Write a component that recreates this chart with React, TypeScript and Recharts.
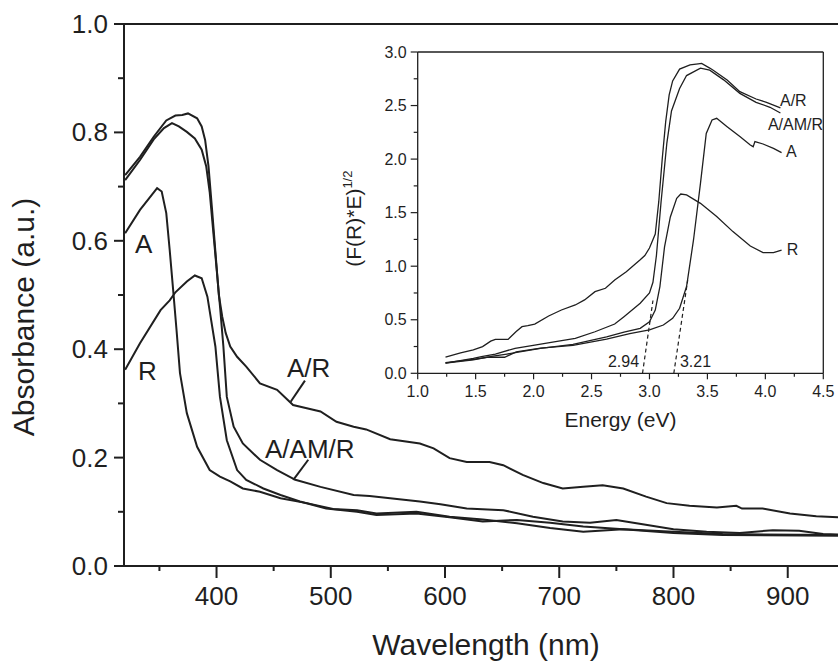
import React from 'react';
import { LineChart, Line, XAxis, YAxis, ReferenceLine, ReferenceDot } from 'recharts';

const FONT = '"Liberation Sans", Arial, Helvetica, sans-serif';
const INK = '#1f1f1f';

// ---------- Main chart: absorbance vs wavelength ----------
const arWl = [320, 333, 345, 356, 364, 370, 375, 383, 387, 390, 393, 396, 399, 402, 405, 408, 412, 418, 426, 438, 453, 467, 479, 491, 505, 520, 531, 552, 578, 590, 604, 619, 639, 651, 668, 686, 703, 721, 738, 756, 776, 794, 814, 838, 855, 860, 878, 902, 925, 944];
const arAbs = [0.721, 0.755, 0.792, 0.822, 0.831, 0.832, 0.835, 0.826, 0.811, 0.786, 0.737, 0.66, 0.58, 0.5, 0.46, 0.43, 0.405, 0.386, 0.368, 0.337, 0.325, 0.297, 0.291, 0.285, 0.266, 0.257, 0.252, 0.234, 0.226, 0.217, 0.199, 0.192, 0.192, 0.186, 0.168, 0.153, 0.143, 0.146, 0.149, 0.143, 0.128, 0.116, 0.111, 0.108, 0.111, 0.106, 0.106, 0.097, 0.092, 0.09];

const aamrWl = [320, 333, 345, 354, 361, 367, 374, 381, 387, 391, 394, 397, 400, 403, 406, 409, 415, 423, 438, 453, 469, 491, 520, 534, 552, 578, 596, 619, 651, 677, 703, 727, 750, 773, 800, 829, 858, 887, 910, 931, 944];
const aamrAbs = [0.712, 0.749, 0.787, 0.808, 0.817, 0.811, 0.801, 0.789, 0.768, 0.737, 0.69, 0.62, 0.55, 0.48, 0.405, 0.312, 0.257, 0.226, 0.196, 0.177, 0.159, 0.146, 0.131, 0.129, 0.125, 0.119, 0.114, 0.106, 0.103, 0.091, 0.082, 0.08, 0.085, 0.077, 0.068, 0.063, 0.061, 0.066, 0.065, 0.059, 0.058];

const aWl = [320, 333, 348, 352, 356, 359, 362, 365, 368, 374, 383, 394, 403, 412, 423, 438, 456, 479, 502, 523, 540, 575, 604, 633, 663, 692, 721, 756, 800, 843, 944];
const aAbs = [0.614, 0.657, 0.697, 0.691, 0.651, 0.583, 0.51, 0.435, 0.356, 0.282, 0.22, 0.177, 0.165, 0.156, 0.143, 0.137, 0.125, 0.116, 0.105, 0.103, 0.097, 0.1, 0.091, 0.086, 0.079, 0.07, 0.063, 0.068, 0.063, 0.059, 0.057];

const rWl = [320, 333, 351, 359, 364, 374, 381, 387, 392, 399, 403, 409, 418, 426, 441, 456, 473, 496, 523, 540, 575, 604, 633, 663, 692, 721, 756, 800, 843, 944];
const rAbs = [0.362, 0.411, 0.472, 0.49, 0.505, 0.525, 0.536, 0.531, 0.497, 0.405, 0.312, 0.232, 0.177, 0.159, 0.143, 0.131, 0.119, 0.106, 0.1, 0.094, 0.097, 0.09, 0.082, 0.085, 0.08, 0.073, 0.068, 0.061, 0.057, 0.056];

const mainXTicks = [350, 400, 450, 500, 550, 600, 650, 700, 750, 800, 850, 900];
const mainYTicks = [0, 0.1, 0.2, 0.3, 0.4, 0.5, 0.6, 0.7, 0.8, 0.9, 1.0];

// ---------- Inset: Tauc plot ----------
const arE = [1.24, 1.37, 1.48, 1.56, 1.63, 1.67, 1.78, 1.85, 1.9, 1.95, 2.01, 2.13, 2.24, 2.36, 2.44, 2.53, 2.62, 2.7, 2.8, 2.92, 2.96, 3.0, 3.05, 3.08, 3.11, 3.14, 3.17, 3.2, 3.26, 3.35, 3.42, 3.45, 3.52, 3.55, 3.67, 3.78, 3.92, 4.01, 4.13];
const arF = [0.152, 0.19, 0.218, 0.249, 0.3, 0.317, 0.317, 0.39, 0.435, 0.445, 0.46, 0.535, 0.591, 0.638, 0.685, 0.762, 0.794, 0.871, 0.949, 1.06, 1.1, 1.17, 1.3, 1.6, 2.0, 2.35, 2.6, 2.73, 2.84, 2.88, 2.89, 2.894, 2.85, 2.83, 2.739, 2.63, 2.561, 2.53, 2.478];

const aamrE = [1.24, 1.48, 1.55, 1.67, 1.84, 2.01, 2.19, 2.36, 2.53, 2.7, 2.78, 2.92, 3.0, 3.03, 3.06, 3.1, 3.15, 3.19, 3.26, 3.32, 3.44, 3.52, 3.64, 3.78, 3.92, 4.04, 4.13];
const aamrF = [0.095, 0.14, 0.155, 0.18, 0.233, 0.264, 0.295, 0.327, 0.388, 0.46, 0.529, 0.654, 0.75, 0.85, 1.1, 1.6, 2.15, 2.45, 2.66, 2.78, 2.85, 2.83, 2.74, 2.614, 2.53, 2.484, 2.43];

const aE = [1.24, 1.48, 1.6, 1.75, 1.85, 2.06, 2.34, 2.63, 2.83, 3.0, 3.12, 3.2, 3.26, 3.32, 3.38, 3.44, 3.49, 3.54, 3.58, 3.67, 3.78, 3.87, 3.895, 3.91, 3.98, 4.07, 4.14];
const aF = [0.1, 0.13, 0.15, 0.15, 0.2, 0.235, 0.26, 0.32, 0.37, 0.405, 0.451, 0.514, 0.607, 0.81, 1.245, 1.774, 2.24, 2.365, 2.381, 2.303, 2.21, 2.132, 2.116, 2.163, 2.141, 2.1, 2.06];

const rE = [1.24, 1.48, 1.65, 1.77, 2.06, 2.34, 2.63, 2.78, 2.92, 3.0, 3.05, 3.09, 3.13, 3.18, 3.235, 3.27, 3.32, 3.44, 3.58, 3.72, 3.87, 3.98, 4.07, 4.14];
const rF = [0.095, 0.125, 0.16, 0.18, 0.233, 0.27, 0.34, 0.385, 0.42, 0.48, 0.59, 0.81, 1.18, 1.46, 1.634, 1.674, 1.665, 1.587, 1.463, 1.323, 1.189, 1.127, 1.127, 1.15];

const insetXTicks = [1, 1.25, 1.5, 1.75, 2, 2.25, 2.5, 2.75, 3, 3.25, 3.5, 3.75, 4, 4.25, 4.5];
const insetYTicks = [0, 0.25, 0.5, 0.75, 1, 1.25, 1.5, 1.75, 2, 2.25, 2.5, 2.75, 3];

const gapEdges = [
  { label: '2.94', from: [2.94, 0], to: [3.03, 0.68] },
  { label: '3.21', from: [3.21, 0], to: [3.33, 0.87] },
];

const pts = (xs: number[], ys: number[]) => xs.map((x, i) => ({ x, y: ys[i] }));

// ---------- tick renderers ----------
const MainXTick = (p: any) => {
  const v = p.payload.value;
  const major = v % 100 === 0;
  return (
    <g>
      <line x1={p.x} x2={p.x} y1={p.y} y2={p.y + (major ? 12 : 5)} stroke={INK} strokeWidth={2} />
      {major && (
        <text x={p.x} y={p.y + 39} textAnchor="middle" fontSize={26} fontFamily={FONT} fill={INK}>
          {v}
        </text>
      )}
    </g>
  );
};

const MainYTick = (p: any) => {
  const v = p.payload.value;
  const major = Math.round(v * 10) % 2 === 0;
  return (
    <g>
      <line x1={p.x - (major ? 10 : 6)} x2={p.x} y1={p.y} y2={p.y} stroke={INK} strokeWidth={2} />
      {major && (
        <text x={p.x - 16} y={p.y + 9} textAnchor="end" fontSize={26} fontFamily={FONT} fill={INK}>
          {v.toFixed(1)}
        </text>
      )}
    </g>
  );
};

const isHalf = (v: number) => Math.abs(v * 2 - Math.round(v * 2)) < 1e-6;

const InsetXTick = (p: any) => {
  const v = p.payload.value;
  const major = isHalf(v);
  return (
    <g>
      <line x1={p.x} x2={p.x} y1={p.y} y2={p.y + (major ? 6 : 3.5)} stroke={INK} strokeWidth={1.2} />
      {major && (
        <text x={p.x} y={p.y + 23.5} textAnchor="middle" fontSize={16} fontFamily={FONT} fill={INK}>
          {v.toFixed(1)}
        </text>
      )}
    </g>
  );
};

const InsetYTick = (p: any) => {
  const v = p.payload.value;
  const major = isHalf(v);
  return (
    <g>
      <line x1={p.x - (major ? 7 : 4)} x2={p.x} y1={p.y} y2={p.y} stroke={INK} strokeWidth={1.2} />
      {major && (
        <text x={p.x - 11} y={p.y + 5.5} textAnchor="end" fontSize={16} fontFamily={FONT} fill={INK}>
          {v.toFixed(1)}
        </text>
      )}
    </g>
  );
};

const textShape = (text: string, size: number) => (p: any) => (
  <text x={p.cx} y={p.cy} fontSize={size} fontFamily={FONT} fill={INK}>
    {text}
  </text>
);

const MainXTitle = (lp: any) => {
  const vb = lp.viewBox || { x: 124, y: 566, width: 714, height: 96 };
  return (
    <text x={vb.x + vb.width / 2 + 5} y={vb.y + 89} textAnchor="middle" fontSize={30} fontFamily={FONT} fill={INK}>
      Wavelength (nm)
    </text>
  );
};

const MainYTitle = (lp: any) => {
  const vb = lp.viewBox || { x: 0, y: 24, width: 124, height: 542 };
  const x = vb.x + 34;
  const y = vb.y + vb.height / 2 + 22;
  return (
    <text x={x} y={y} transform={`rotate(-90 ${x} ${y})`} textAnchor="middle" fontSize={30} fontFamily={FONT} fill={INK}>
      Absorbance (a.u.)
    </text>
  );
};

const InsetXTitle = (lp: any) => {
  const vb = lp.viewBox || { x: 87.7, y: 333.3, width: 405.6, height: 66.7 };
  return (
    <text x={vb.x + vb.width / 2} y={vb.y + 53.4} textAnchor="middle" fontSize={21} fontFamily={FONT} fill={INK}>
      Energy (eV)
    </text>
  );
};

const InsetYTitle = (lp: any) => {
  const vb = lp.viewBox || { x: 0, y: 12, width: 87.7, height: 321.3 };
  const x = vb.x + 31;
  const y = vb.y + vb.height / 2 + 6;
  return (
    <text x={x} y={y} transform={`rotate(-90 ${x} ${y})`} textAnchor="middle" fontSize={21} fontFamily={FONT} fill={INK}>
      (F(R)*E)
      <tspan fontSize={13} dy={-9}>1/2</tspan>
    </text>
  );
};

export default function App() {
  const lineProps = { type: 'linear' as const, dataKey: 'y', dot: false, isAnimationActive: false, stroke: INK };
  return (
    <div style={{ position: 'absolute', left: 0, top: 0, width: 838, height: 662, background: '#fff', overflow: 'hidden' }}>
      <LineChart width={838} height={662} margin={{ top: 24, right: 0, bottom: 0, left: 0 }}>
        <XAxis
          type="number"
          dataKey="x"
          domain={[319, 944]}
          allowDataOverflow
          ticks={mainXTicks}
          interval={0}
          height={96}
          axisLine={{ stroke: INK, strokeWidth: 2 }}
          tickLine={false}
          tickSize={0}
          tickMargin={0}
          tick={(p: any) => <MainXTick {...p} />}
          label={{ content: MainXTitle }}
        />
        <YAxis
          type="number"
          domain={[0, 1]}
          allowDataOverflow
          ticks={mainYTicks}
          interval={0}
          width={124}
          axisLine={{ stroke: INK, strokeWidth: 2 }}
          tickLine={false}
          tickSize={0}
          tickMargin={0}
          tick={(p: any) => <MainYTick {...p} />}
          label={{ content: MainYTitle }}
        />
        <ReferenceLine y={1} stroke={INK} strokeWidth={2} />
        <Line {...lineProps} data={pts(arWl, arAbs)} strokeWidth={2} name="A/R" />
        <Line {...lineProps} data={pts(aamrWl, aamrAbs)} strokeWidth={2} name="A/AM/R" />
        <Line {...lineProps} data={pts(aWl, aAbs)} strokeWidth={2} name="A" />
        <Line {...lineProps} data={pts(rWl, rAbs)} strokeWidth={2} name="R" />
        <ReferenceLine segment={[{ x: 464.9, y: 0.303 }, { x: 477.4, y: 0.342 }]} stroke={INK} strokeWidth={2} />
        <ReferenceLine segment={[{ x: 467.2, y: 0.159 }, { x: 480.3, y: 0.196 }]} stroke={INK} strokeWidth={2} />
        <ReferenceDot x={328.7} y={0.577} r={0} shape={textShape('A', 26)} />
        <ReferenceDot x={331.3} y={0.343} r={0} shape={textShape('R', 26)} />
        <ReferenceDot x={461.7} y={0.349} r={0} shape={textShape('A/R', 26)} />
        <ReferenceDot x={442.4} y={0.199} r={0} shape={textShape('A/AM/R', 26)} />
      </LineChart>

      <div style={{ position: 'absolute', left: 330, top: 40, width: 508, height: 400 }}>
        <LineChart width={508} height={400} margin={{ top: 12, right: 14.7, bottom: 0, left: 0 }}>
          <XAxis
            type="number"
            dataKey="x"
            domain={[1, 4.5]}
            allowDataOverflow
            ticks={insetXTicks}
            interval={0}
            height={66.7}
            axisLine={{ stroke: INK, strokeWidth: 1.3 }}
            tickLine={false}
            tickSize={0}
            tickMargin={0}
            tick={(p: any) => <InsetXTick {...p} />}
            label={{ content: InsetXTitle }}
          />
          <YAxis
            type="number"
            domain={[0, 3]}
            allowDataOverflow
            ticks={insetYTicks}
            interval={0}
            width={87.7}
            axisLine={{ stroke: INK, strokeWidth: 1.3 }}
            tickLine={false}
            tickSize={0}
            tickMargin={0}
            tick={(p: any) => <InsetYTick {...p} />}
            label={{ content: InsetYTitle }}
          />
          <ReferenceLine y={3} stroke={INK} strokeWidth={1.3} />
          <ReferenceLine x={4.5} stroke={INK} strokeWidth={1.3} />
          <Line {...lineProps} data={pts(arE, arF)} strokeWidth={1.3} name="A/R inset" />
          <Line {...lineProps} data={pts(aamrE, aamrF)} strokeWidth={1.3} name="A/AM/R inset" />
          <Line {...lineProps} data={pts(aE, aF)} strokeWidth={1.3} name="A inset" />
          <Line {...lineProps} data={pts(rE, rF)} strokeWidth={1.3} name="R inset" />
          {gapEdges.map((g) => (
            <ReferenceLine
              key={g.label}
              segment={[{ x: g.from[0], y: g.from[1] }, { x: g.to[0], y: g.to[1] }]}
              stroke={INK}
              strokeWidth={1.2}
              strokeDasharray="4 3"
            />
          ))}
          <ReferenceDot x={2.642} y={0.059} r={0} shape={textShape('2.94', 16)} />
          <ReferenceDot x={3.263} y={0.059} r={0} shape={textShape('3.21', 16)} />
          <ReferenceDot x={4.126} y={2.496} r={0} shape={textShape('A/R', 16)} />
          <ReferenceDot x={4.022} y={2.272} r={0} shape={textShape('A/AM/R', 16)} />
          <ReferenceDot x={4.178} y={2.022} r={0} shape={textShape('A', 16)} />
          <ReferenceDot x={4.184} y={1.105} r={0} shape={textShape('R', 16)} />
        </LineChart>
      </div>
    </div>
  );
}
